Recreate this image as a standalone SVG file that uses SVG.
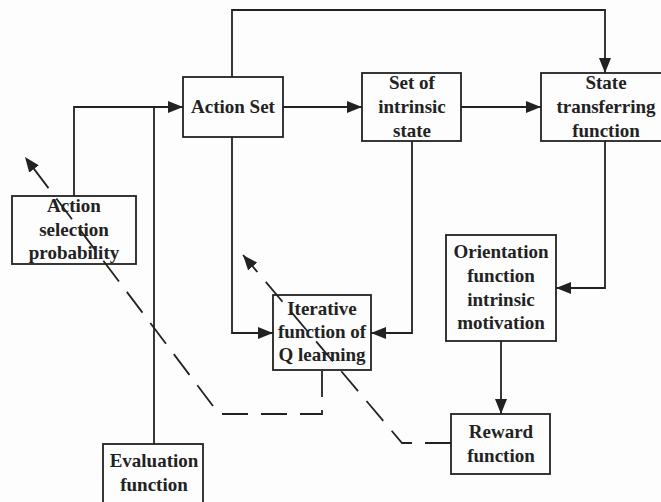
<svg xmlns="http://www.w3.org/2000/svg" width="661" height="502" viewBox="0 0 661 502">
<style>
.box{fill:none;stroke:#222;stroke-width:1.8}
.ln{fill:none;stroke:#222;stroke-width:1.8}
.dash{fill:none;stroke:#222;stroke-width:1.8;stroke-dasharray:26 13}
text{font-family:"Liberation Serif","Times New Roman",serif;font-weight:bold;font-size:19px;fill:#222;text-anchor:middle}
</style>
<defs>
<marker id="ah" markerWidth="16" markerHeight="12" refX="15" refY="6" orient="auto" markerUnits="userSpaceOnUse">
<path d="M0,0 L15,6 L0,12 z" fill="#222"/>
</marker>
</defs>
<rect width="661" height="502" fill="#fdfdfd"/>
<g id="action-set">
<rect class="box" x="183" y="77" width="100" height="60"/>
<text x="233" y="113">Action Set</text>
</g>
<g id="set-intrinsic">
<rect class="box" x="362" y="73" width="99" height="68"/>
<text x="412" y="89">Set of</text>
<text x="412" y="113">intrinsic</text>
<text x="412" y="137">state</text>
</g>
<g id="state-transfer">
<rect class="box" x="541" y="73" width="130" height="68"/>
<text x="606" y="89">State</text>
<text x="606" y="113">transferring</text>
<text x="606" y="137">function</text>
</g>
<g id="action-selection">
<rect class="box" x="12" y="196" width="124" height="68"/>
<text x="74" y="212">Action</text>
<text x="74" y="236">selection</text>
<text x="74" y="259">probability</text>
</g>
<g id="iterative">
<rect class="box" x="273" y="295" width="98" height="75"/>
<text x="322" y="315">Iterative</text>
<text x="322" y="338">function of</text>
<text x="322" y="361">Q learning</text>
</g>
<g id="orientation">
<rect class="box" x="446" y="235" width="110" height="106"/>
<text x="501" y="258">Orientation</text>
<text x="501" y="282">function</text>
<text x="501" y="306">intrinsic</text>
<text x="501" y="329">motivation</text>
</g>
<g id="reward">
<rect class="box" x="451" y="414" width="99" height="60"/>
<text x="501" y="438">Reward</text>
<text x="501" y="462">function</text>
</g>
<g id="evaluation">
<rect class="box" x="103" y="444" width="100" height="70"/>
<text x="154" y="467">Evaluation</text>
<text x="154" y="491">function</text>
</g>
<g id="connectors">
<path class="ln" d="M232,77 V10 H605 V73" marker-end="url(#ah)"/>
<path class="ln" d="M283,107 H362" marker-end="url(#ah)"/>
<path class="ln" d="M461,107 H541" marker-end="url(#ah)"/>
<path class="ln" d="M74,196 V107 H183" marker-end="url(#ah)"/>
<path class="ln" d="M154,444 V107"/>
<path class="ln" d="M232,137 V333 H273" marker-end="url(#ah)"/>
<path class="ln" d="M412,141 V333 H371" marker-end="url(#ah)"/>
<path class="ln" d="M605,141 V288 H556" marker-end="url(#ah)"/>
<path class="ln" d="M501,341 V414" marker-end="url(#ah)"/>
<path class="dash" d="M322,371 V414 H219 L25,157" marker-end="url(#ah)"/>
<path class="dash" d="M451,443 H402 L243,255" marker-end="url(#ah)"/>
</g>
</svg>
